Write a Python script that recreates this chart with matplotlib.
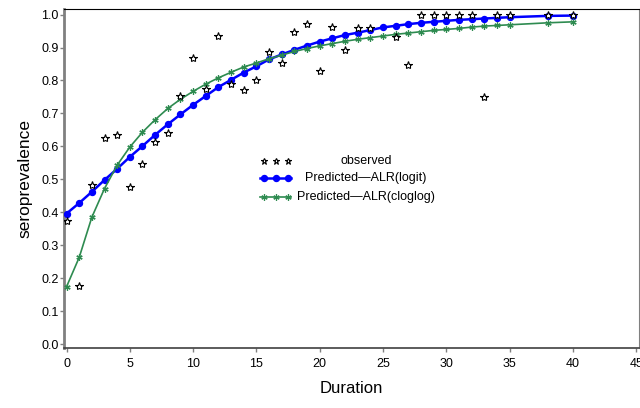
import matplotlib
matplotlib.use("Agg")
import matplotlib.pyplot as plt
from matplotlib.lines import Line2D

plt.rcParams['font.family'] = ['Liberation Sans', 'DejaVu Sans']

# Observed seroprevalence
obs_x = [0, 1, 2, 3, 4, 5, 6, 7, 8, 9, 10, 11, 12, 13, 14, 15, 16, 17, 18, 19, 20,
         21, 22, 23, 24, 26, 27, 28, 29, 30, 31, 32, 33, 34, 35, 38, 40]
obs_y = [0.375, 0.176, 0.483, 0.626, 0.634, 0.477, 0.545, 0.612, 0.642, 0.752, 0.869,
         0.775, 0.935, 0.79, 0.77, 0.802, 0.887, 0.853, 0.947, 0.97, 0.83,
         0.962, 0.892, 0.959, 0.959, 0.931, 0.848, 1.0, 1.0, 1.0, 1.0, 1.0, 0.75,
         1.0, 1.0, 1.0, 1.0]

# Predicted curves
pred_x = list(range(0, 36)) + [38, 40]
logit_y = [0.396, 0.428, 0.462, 0.498, 0.532, 0.568, 0.601, 0.635, 0.667, 0.697,
           0.726, 0.753, 0.780, 0.802, 0.824, 0.843, 0.864, 0.879, 0.893, 0.906,
           0.918, 0.928, 0.938, 0.945, 0.953, 0.961, 0.966, 0.971, 0.975, 0.978,
           0.981, 0.984, 0.986, 0.988, 0.990, 0.992, 0.996, 0.997]
cloglog_y = [0.174, 0.263, 0.385, 0.472, 0.543, 0.598, 0.643, 0.681, 0.715, 0.743,
             0.767, 0.789, 0.808, 0.825, 0.841, 0.853, 0.866, 0.877, 0.888, 0.897,
             0.905, 0.912, 0.919, 0.925, 0.930, 0.935, 0.940, 0.944, 0.948, 0.952,
             0.955, 0.958, 0.962, 0.965, 0.967, 0.969, 0.975, 0.978]

x_ticks = [0, 5, 10, 15, 20, 25, 30, 35, 40, 45]
y_ticks = [0.0, 0.1, 0.2, 0.3, 0.4, 0.5, 0.6, 0.7, 0.8, 0.9, 1.0]

legend_labels = ["observed", "Predicted\u2014ALR(logit)", "Predicted\u2014ALR(cloglog)"]

BLUE = '#0000ff'
GREEN = '#2e8b50'
asterisk = (6, 2, 0)

fig = plt.figure(figsize=(6.4, 4.08), dpi=100)
ax = fig.add_axes([0.100, 0.147, 0.898, 0.831])

ax.plot(pred_x, logit_y, color=BLUE, lw=1.8, marker='o', ms=4.3, mfc=BLUE, mec=BLUE, zorder=3)
ax.plot(pred_x, cloglog_y, color=GREEN, lw=1.2, marker=asterisk, ms=4.5, mec=GREEN, mew=0.9, zorder=3)
ax.plot(obs_x, obs_y, ls='none', marker='*', ms=6, mfc='white', mec='black', mew=0.8, zorder=4)

ax.set_xlim(-0.2, 45.2)
ax.set_ylim(-0.012, 1.017)
ax.set_xticks(x_ticks)
ax.set_yticks(y_ticks)
ax.set_yticklabels([f"{v:.1f}" for v in y_ticks])
ax.tick_params(axis='both', labelsize=9, length=3, color='#808080', width=1)
ax.tick_params(axis='x', pad=4)
ax.tick_params(axis='y', pad=1)

ax.spines['left'].set_color('#808080')
ax.spines['left'].set_linewidth(2)
ax.spines['bottom'].set_color('#404040')
ax.spines['bottom'].set_linewidth(1.2)
ax.spines['top'].set_color('black')
ax.spines['right'].set_color('#808080')

ax.set_xlabel("Duration", fontsize=12, labelpad=8)
ax.set_ylabel("seroprevalence", fontsize=12.5, labelpad=6)

# Manual legend (centered text, as in reference)
tr = ax.transAxes
def px2ax(px, py):
    bb = ax.get_window_extent()
    H = fig.get_size_inches()[1] * fig.dpi
    return ((px - bb.x0) / bb.width, ((H - py) - bb.y0) / bb.height)

rows_y = [161, 178, 197]
hx = [264, 276, 288]
styles = [
    dict(ls='none', marker='*', ms=5, mfc='white', mec='black', mew=0.8),
    dict(ls='-', color=BLUE, lw=1.8, marker='o', ms=4.3, mfc=BLUE, mec=BLUE),
    dict(ls='-', color=GREEN, lw=1.2, marker=asterisk, ms=4.5, mec=GREEN, mew=0.9),
]
for ry, st, lab in zip(rows_y, styles, legend_labels):
    pts = [px2ax(x, ry) for x in hx]
    xs = [p[0] for p in pts]
    ys = [p[1] for p in pts]
    if st.get('ls') == '-':
        l0 = px2ax(260, ry)[0]
        l1 = px2ax(291, ry)[0]
        ax.add_line(Line2D([l0, l1], [ys[0], ys[0]], transform=tr, color=st['color'], lw=st['lw'], zorder=5))
        st2 = dict(st); st2['ls'] = 'none'
        ax.add_line(Line2D(xs, ys, transform=tr, zorder=5, **st2))
    else:
        ax.add_line(Line2D(xs, ys, transform=tr, zorder=5, **st))
    tx, ty = px2ax(366, ry)
    ax.text(tx, ty, lab, transform=tr, ha='center', va='center', fontsize=9)

fig.savefig("out.png", dpi=100)
